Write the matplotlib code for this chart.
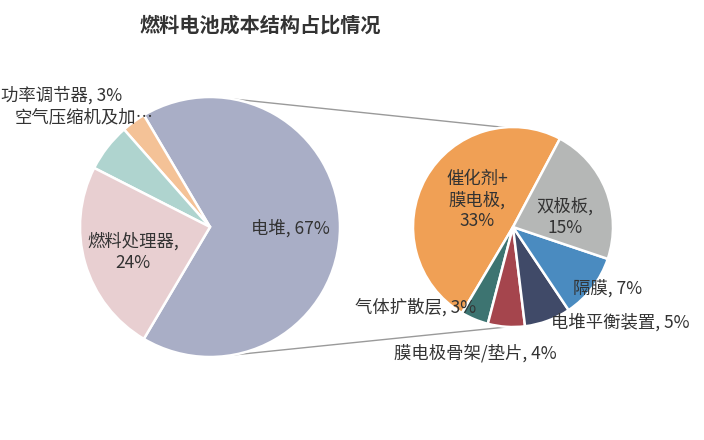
import matplotlib
matplotlib.use("Agg")
import matplotlib.pyplot as plt
import numpy as np

plt.rcParams['font.family'] = ['Noto Sans CJK SC', 'DejaVu Sans']

# main pie
main_names = ["电堆", "功率调节器", "空气压缩机及加…", "燃料处理器"]
main_vals = [67, 3, 6, 24]
main_colors = ["#a9aec6", "#f4c297", "#afd4cf", "#e8cfd1"]

# breakdown of 电堆
sub_names = ["催化剂+\n膜电极", "气体扩散层", "膜电极骨架/垫片", "电堆平衡装置", "隔膜", "双极板"]
sub_vals = [33, 3, 4, 5, 7, 15]
sub_colors = ["#f0a055", "#3d7471", "#a5454d", "#404a68", "#4a8bc0", "#b5b7b6"]

W, H = 704, 440
fig = plt.figure(figsize=(7.04, 4.4), dpi=100)
ax = fig.add_axes([0, 0, 1, 1])

c1, r1 = (210, H - 227), 130
c2, r2 = (513, H - 227), 100

start1 = -360 * main_vals[0] / sum(main_vals) / 2
ax.pie(main_vals, colors=main_colors, startangle=start1, center=c1, radius=r1,
       wedgeprops=dict(edgecolor="white", linewidth=1.8))
ax.pie(sub_vals, colors=sub_colors, startangle=62, center=c2, radius=r2,
       wedgeprops=dict(edgecolor="white", linewidth=1.8))

# connector lines
for a1, a2 in [(80, 95), (-80, -93)]:
    p1 = (c1[0] + r1 * np.cos(np.radians(a1)), c1[1] + r1 * np.sin(np.radians(a1)))
    p2 = (c2[0] + r2 * np.cos(np.radians(a2)), c2[1] + r2 * np.sin(np.radians(a2)))
    ax.plot([p1[0], p2[0]], [p1[1], p2[1]], color="#9a9a9a", lw=1, zorder=0)

ax.set_xlim(0, W)
ax.set_ylim(0, H)
ax.set_aspect("equal")
ax.axis("off")

tc = "#333333"
fs = 12.5
# main labels
ax.text(290, H - 228, f"{main_names[0]}, {main_vals[0]}%", ha="center", va="center", fontsize=fs, color=tc)
ax.text(1, H - 95, f"{main_names[1]}, {main_vals[1]}%", ha="left", va="center", fontsize=fs, color=tc)
ax.text(15, H - 117, main_names[2], ha="left", va="center", fontsize=fs, color=tc)
ax.text(133, H - 252, f"{main_names[3]},\n{main_vals[3]}%", ha="center", va="center",
        fontsize=fs, color=tc, linespacing=1.2)

# sub labels
sub_pos = [(477, 200), (416, 307), (475, 353), (620, 322), (608, 288), (565, 217)]
for i, (x, y) in enumerate(sub_pos):
    if i == 0 or i == 5:
        s = f"{sub_names[i]},\n{sub_vals[i]}%"
    else:
        s = f"{sub_names[i]}, {sub_vals[i]}%"
    ax.text(x, H - y, s, ha="center", va="center", fontsize=fs, color=tc, linespacing=1.2)

ax.text(260, H - 25, "燃料电池成本结构占比情况", ha="center", va="center",
        fontsize=14.5, fontweight="bold", color="#333333")

fig.savefig("out.png", dpi=100)
